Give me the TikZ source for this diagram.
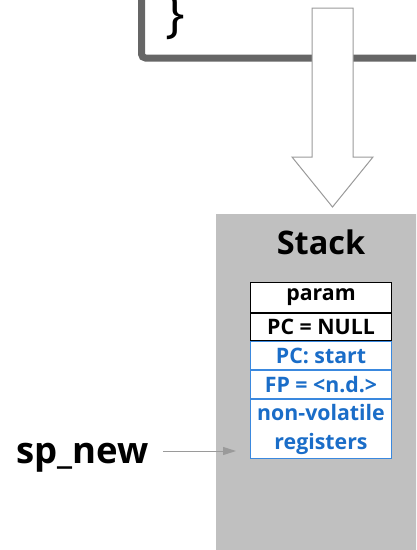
\documentclass[tikz,border=0pt]{standalone}
\usepackage{fontspec}
\setmainfont{Open Sans}
\usepackage{tikz}
\usetikzlibrary{positioning,arrows.meta}
\definecolor{framegray}{HTML}{666666}
\definecolor{stackgray}{HTML}{C0C0C0}
\definecolor{arrowgray}{HTML}{9A9A9A}
\definecolor{regblue}{HTML}{1A6DC8}
\definecolor{regline}{HTML}{3A88DE}

\tikzset{
	cell/.style={draw=black,fill=white,line width=1pt,minimum width=141pt,inner sep=0pt,
		font=\bfseries\fontsize{21.3}{29}\selectfont},
	bluecell/.style={cell,draw=regline,text=regblue},
}

\begin{document}
\begin{tikzpicture}[x=1pt,y=-1pt]
		\useasboundingbox (0,0) rectangle (416,550);
		\clip (0,0) rectangle (416,550);
		% end of the code box
		\draw[framegray,line width=7pt,rounded corners=4pt] (141.5,-20) -- (141.5,58) -- (430,58);
		\node[anchor=south west,inner sep=0pt,font=\fontsize{52}{52}\selectfont] (brace) at (165,40) {\}};
		% block arrow
		\draw[arrowgray,fill=white,line width=1pt] (312,8) -- (353,8) -- (353,157) -- (373,157) -- (332.5,207) -- (292,157) -- (312,157) -- cycle;
		% stack
		\fill[stackgray] (216,214) rectangle (430,560);
		\node[font=\bfseries\fontsize{32.5}{32.5}\selectfont] (stack) at (321,242) {Stack};
		\node[cell,minimum height=30pt,anchor=north west] (param) at (250,282) {param};
		\node[cell,minimum height=27pt,below=0pt of param] (pcnull) {PC = NULL};
		\node[bluecell,minimum height=28pt,below=0pt of pcnull] (pcstart) {PC: start};
		\node[bluecell,minimum height=28pt,below=0pt of pcstart] (fp) {FP = <n.d.>};
		\node[bluecell,minimum height=59pt,align=center,below=0pt of fp] (regs) {non-volatile\\registers};
		% new stack pointer
		\node[font=\bfseries\fontsize{36.5}{36.5}\selectfont,anchor=base west,inner sep=0pt] (spnew) at (16,463) {sp\_new};
		\coordinate (sptip) at (236,451);
		\draw[arrowgray,line width=1pt,-{Triangle[length=13pt,width=8pt]}] (163,451) -- (sptip);
	\end{tikzpicture}
\end{document}
